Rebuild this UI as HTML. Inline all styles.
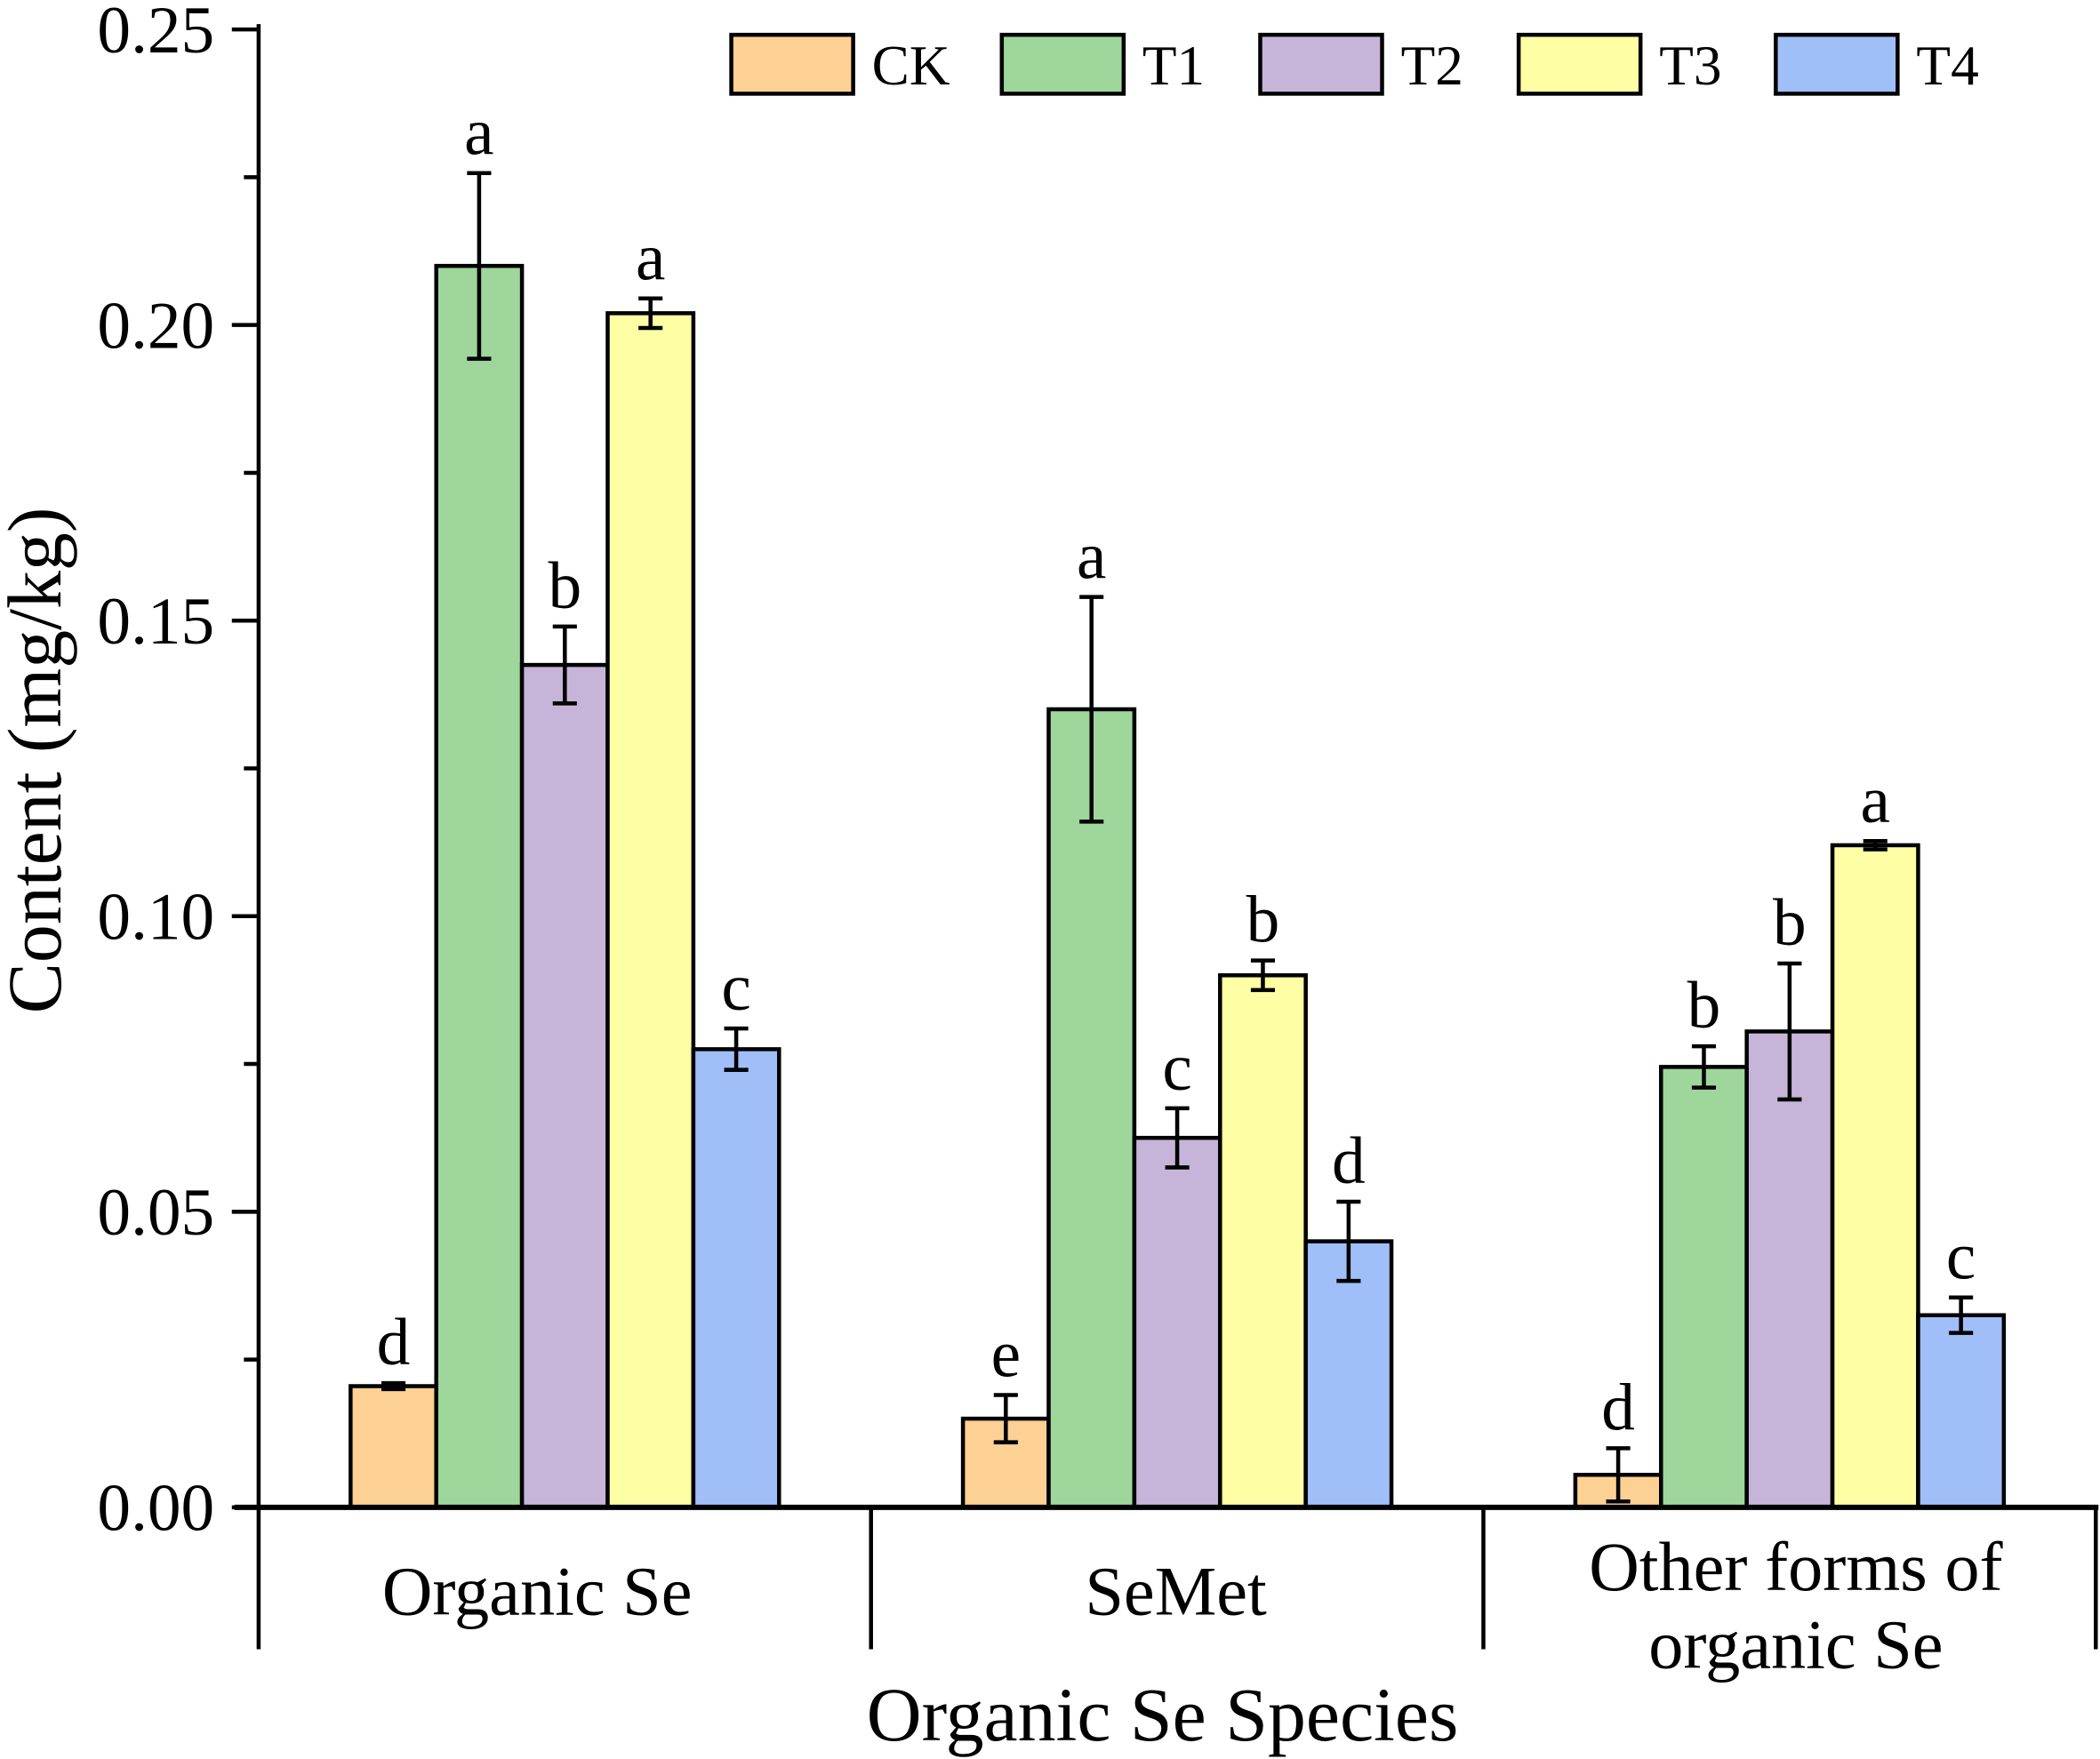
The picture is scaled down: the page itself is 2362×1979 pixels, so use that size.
<!DOCTYPE html>
<html><head><meta charset="utf-8"><style>
html,body{margin:0;padding:0;background:#fff}
svg{display:block;font-family:"Liberation Serif",serif}
</style></head><body>
<svg id="chart" width="2362" height="1979" viewBox="0 0 1568 1314" xmlns="http://www.w3.org/2000/svg"></svg>
<script>
const categories = [["Organic Se"], ["SeMet"], ["Other forms of", "organic Se"]];
const seriesNames = ["CK", "T1", "T2", "T3", "T4"];
const seriesColors = ["#FDD093", "#9ED69C", "#C6B5D8", "#FEFEA4", "#A0BEF8"];
const valuesCK = [0.0205, 0.015, 0.0055];
const valuesT1 = [0.210, 0.135, 0.0745];
const valuesT2 = [0.1425, 0.0625, 0.0805];
const valuesT3 = [0.202, 0.090, 0.112];
const valuesT4 = [0.0775, 0.045, 0.0325];
const errorsCK = [0.0005, 0.004, 0.0045];
const errorsT1 = [0.0157, 0.019, 0.0035];
const errorsT2 = [0.0065, 0.005, 0.0115];
const errorsT3 = [0.0025, 0.0025, 0.0007];
const errorsT4 = [0.0035, 0.0067, 0.003];
const lettersCK = ["d", "e", "d"];
const lettersT1 = ["a", "a", "b"];
const lettersT2 = ["b", "c", "b"];
const lettersT3 = ["a", "b", "a"];
const lettersT4 = ["c", "d", "c"];
const yTicks = ["0.00", "0.05", "0.10", "0.15", "0.20", "0.25"];

const values = [valuesCK, valuesT1, valuesT2, valuesT3, valuesT4];
const errors = [errorsCK, errorsT1, errorsT2, errorsT3, errorsT4];
const letters = [lettersCK, lettersT1, lettersT2, lettersT3, lettersT4];

const NS = "http://www.w3.org/2000/svg";
const svg = document.getElementById("chart");
const X0 = 193, X1 = 1565, Y0 = 1126, YTOP = 22, VMAX = 0.25;
const y = v => Y0 - (v / VMAX) * (Y0 - YTOP);
const catW = (X1 - X0) / categories.length;
const barW = 64;
const x = (ci, si) => X0 + catW * ci + catW / 2 - 2.5 * barW + si * barW;
const catCenters = [401, 878, 1341];

function el(tag, attrs, text) {
  const e = document.createElementNS(NS, tag);
  for (const k in attrs) e.setAttribute(k, attrs[k]);
  if (text !== undefined) e.textContent = text;
  svg.appendChild(e);
  return e;
}

for (let si = 0; si < seriesNames.length; si++) {
  for (let ci = 0; ci < categories.length; ci++) {
    const v = values[si][ci], e = errors[si][ci];
    const bx = x(ci, si);
    const r = el("rect", {x: bx, y: y(v), width: barW, height: Y0 - y(v), fill: seriesColors[si], stroke: "#000", "stroke-width": 3});
    
    
    const cx = bx + barW / 2;
    const g = el("path", {d: `M${cx},${y(v+e)}V${y(v-e)}M${cx-9},${y(v+e)}H${cx+9}M${cx-9},${y(v-e)}H${cx+9}`, stroke: "#000", "stroke-width": 3, fill: "none"});
    
    
    const t = el("text", {x: cx, y: y(v + e) - 14, "text-anchor": "middle", "font-size": 50}, letters[si][ci]);
    
    
  }
}

const ya = el("path", {d: `M${X0},18V${Y0}`, stroke: "#000", "stroke-width": 3});


for (let i = 0; i < yTicks.length; i++) {
  const v = i * 0.05;
  const tk = el("path", {d: `M${X0-20},${y(v)}H${X0}`, stroke: "#000", "stroke-width": 3});
  
  
  if (i < yTicks.length - 1) {
    const mk = el("path", {d: `M${X0-11},${y(v+0.025)}H${X0}`, stroke: "#000", "stroke-width": 3});
    
    
  }
  const tl = el("text", {x: 160, y: y(v) + 17, "text-anchor": "end", "font-size": 50}, yTicks[i]);
  
  
}

const xa = el("path", {d: `M175,${Y0}H${X1+2}`, stroke: "#000", "stroke-width": 4});


for (let i = 0; i <= categories.length; i++) {
  const sx = X0 + catW * i;
  const s = el("path", {d: `M${sx},${Y0}V1232`, stroke: "#000", "stroke-width": 3});
  
  
}
for (let ci = 0; ci < categories.length; ci++) {
  const lines = categories[ci];
  const baseY = lines.length === 1 ? 1206 : 1188;
  lines.forEach((ln, li) => {
    const t = el("text", {x: catCenters[ci], y: baseY + li * 58, "text-anchor": "middle", "font-size": 52}, ln);
    
    
  });
}

const xt = el("text", {x: 868, y: 1300, "text-anchor": "middle", "font-size": 57}, "Organic Se Species");


const yt = el("text", {x: 0, y: 0, "text-anchor": "middle", "font-size": 57, transform: "translate(45,568) rotate(-90)"}, "Content (mg/kg)");



const legX = [546, 748, 941, 1134, 1326];
for (let si = 0; si < seriesNames.length; si++) {
  const r = el("rect", {x: legX[si], y: 26, width: 91, height: 44, fill: seriesColors[si], stroke: "#000", "stroke-width": 3});
  
  
  const t = el("text", {x: legX[si] + 105, y: 63, "font-size": 42}, seriesNames[si]);
  
  
}
</script>
</body></html>
